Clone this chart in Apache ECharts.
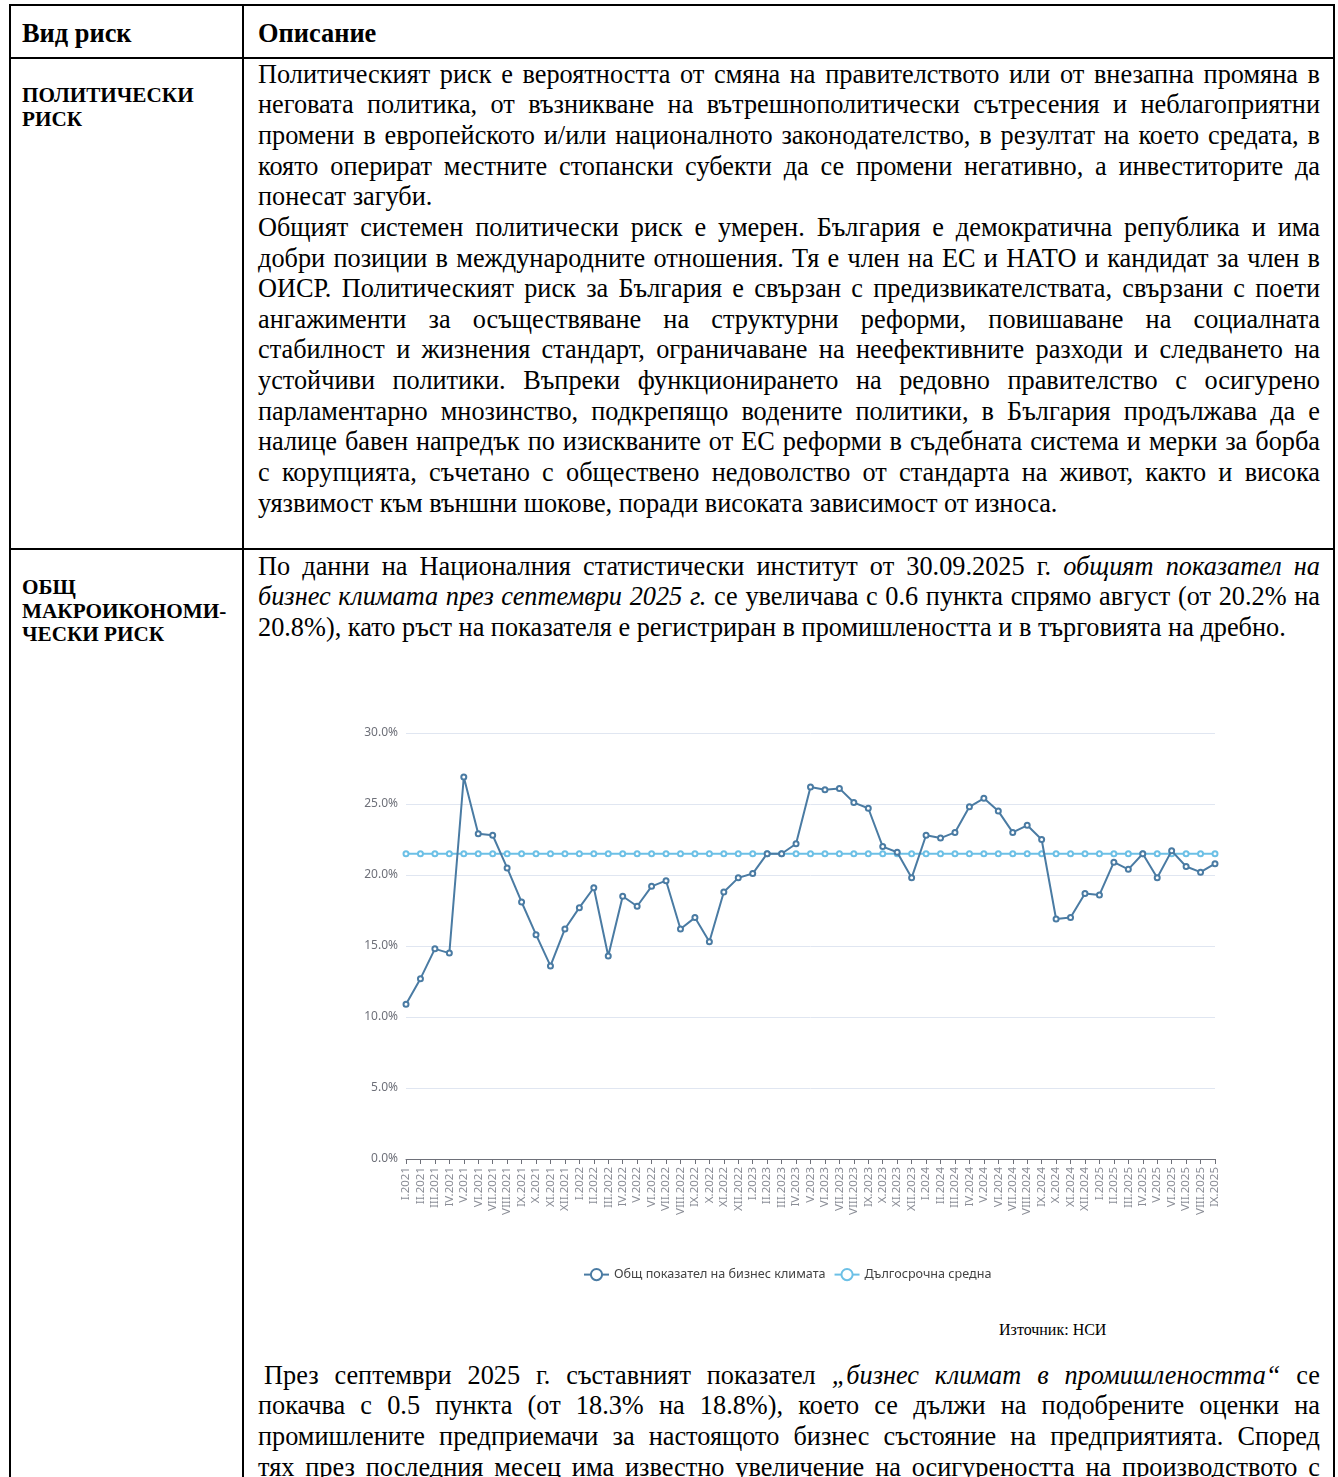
<!DOCTYPE html>
<html><head><meta charset="utf-8">
<script src="https://cdn.jsdelivr.net/npm/echarts@6/dist/echarts.min.js"></script>
<style>
html,body{margin:0;padding:0;background:#fff;}
body{width:1338px;height:1477px;overflow:hidden;position:relative;font-family:"Liberation Serif","Times New Roman",serif;color:#000;}
.b{position:absolute;background:#000;}
.txt{position:absolute;left:258px;width:1062px;font-size:26.3px;line-height:30.64px;}
.txt div{text-align:justify;text-align-last:justify;white-space:nowrap;}
.txt div.l{text-align:left;text-align-last:left;}
.hd{position:absolute;font-weight:bold;font-size:26.4px;line-height:30px;}
.lab{position:absolute;left:22px;font-weight:bold;font-size:21.2px;line-height:23.5px;}
#chart{position:absolute;left:330px;top:700px;width:960px;height:600px;}
.src{position:absolute;left:999px;top:1321px;font-size:16px;}
</style></head>
<body>
<div class="b" style="left:9px;top:4px;width:1326px;height:2px"></div>
<div class="b" style="left:9px;top:57px;width:1326px;height:2px"></div>
<div class="b" style="left:9px;top:548px;width:1326px;height:2px"></div>
<div class="b" style="left:9px;top:4px;width:2px;height:1480px"></div>
<div class="b" style="left:242px;top:4px;width:2px;height:1480px"></div>
<div class="b" style="left:1333px;top:4px;width:2px;height:1480px"></div>

<div class="hd" style="left:22px;top:18px">Вид риск</div>
<div class="hd" style="left:258px;top:18px">Описание</div>

<div class="lab" style="top:84px">ПОЛИТИЧЕСКИ<br>РИСК</div>
<div class="lab" style="top:576px">ОБЩ<br>МАКРОИКОНОМИ-<br>ЧЕСКИ РИСК</div>

<div class="txt" style="top:59.7px">
<div>Политическият риск е вероятността от смяна на правителството или от внезапна промяна в</div>
<div>неговата политика, от възникване на вътрешнополитически сътресения и неблагоприятни</div>
<div>промени в европейското и/или националното законодателство, в резултат на което средата, в</div>
<div>която оперират местните стопански субекти да се промени негативно, а инвеститорите да</div>
<div class="l">понесат загуби.</div>
<div>Общият системен политически риск е умерен. България е демократична република и има</div>
<div>добри позиции в международните отношения. Тя е член на ЕС и НАТО и кандидат за член в</div>
<div>ОИСР. Политическият риск за България е свързан с предизвикателствата, свързани с поети</div>
<div>ангажименти за осъществяване на структурни реформи, повишаване на социалната</div>
<div>стабилност и жизнения стандарт, ограничаване на неефективните разходи и следването на</div>
<div>устойчиви политики. Въпреки функционирането на редовно правителство с осигурено</div>
<div>парламентарно мнозинство, подкрепящо водените политики, в България продължава да е</div>
<div>налице бавен напредък по изискваните от ЕС реформи в съдебната система и мерки за борба</div>
<div>с корупцията, съчетано с обществено недоволство от стандарта на живот, както и висока</div>
<div class="l">уязвимост към външни шокове, поради високата зависимост от износа.</div>
</div>

<div class="txt" style="top:551.7px">
<div>По данни на Националния статистически институт от 30.09.2025 г. <i>общият показател на</i></div>
<div><i>бизнес климата през септември 2025 г.</i> се увеличава с 0.6 пункта спрямо август (от 20.2% на</div>
<div class="l">20.8%), като ръст на показателя е регистриран в промишлеността и в търговията на дребно.</div>
</div>

<div id="chart"></div>
<div class="src">Източник: НСИ</div>

<div class="txt" style="top:1360.7px">
<div style="padding-left:6px">През септември 2025 г. съставният показател <i>„бизнес климат в промишлеността“</i> се</div>
<div>покачва с 0.5 пункта (от 18.3% на 18.8%), което се дължи на подобрените оценки на</div>
<div>промишлените предприемачи за настоящото бизнес състояние на предприятията. Според</div>
<div>тях през последния месец има известно увеличение на осигуреността на производството с</div>
</div>

<script>
const months = [
 'I.2021','II.2021','III.2021','IV.2021','V.2021','VI.2021','VII.2021','VIII.2021','IX.2021','X.2021','XI.2021','XII.2021',
 'I.2022','II.2022','III.2022','IV.2022','V.2022','VI.2022','VII.2022','VIII.2022','IX.2022','X.2022','XI.2022','XII.2022',
 'I.2023','II.2023','III.2023','IV.2023','V.2023','VI.2023','VII.2023','VIII.2023','IX.2023','X.2023','XI.2023','XII.2023',
 'I.2024','II.2024','III.2024','IV.2024','V.2024','VI.2024','VII.2024','VIII.2024','IX.2024','X.2024','XI.2024','XII.2024',
 'I.2025','II.2025','III.2025','IV.2025','V.2025','VI.2025','VII.2025','VIII.2025','IX.2025'
];
const businessClimate = [
 10.9,12.7,14.8,14.5,26.9,22.9,22.8,20.5,18.1,15.8,13.6,16.2,
 17.7,19.1,14.3,18.5,17.8,19.2,19.6,16.2,17.0,15.3,18.8,19.8,
 20.1,21.5,21.5,22.2,26.2,26.0,26.1,25.1,24.7,22.0,21.6,19.8,
 22.8,22.6,23.0,24.8,25.4,24.5,23.0,23.5,22.5,16.9,17.0,18.7,
 18.6,20.9,20.4,21.5,19.8,21.7,20.6,20.2,20.8
];
const longTermAverage = [
 21.5,21.5,21.5,21.5,21.5,21.5,21.5,21.5,21.5,21.5,21.5,21.5,
 21.5,21.5,21.5,21.5,21.5,21.5,21.5,21.5,21.5,21.5,21.5,21.5,
 21.5,21.5,21.5,21.5,21.5,21.5,21.5,21.5,21.5,21.5,21.5,21.5,
 21.5,21.5,21.5,21.5,21.5,21.5,21.5,21.5,21.5,21.5,21.5,21.5,
 21.5,21.5,21.5,21.5,21.5,21.5,21.5,21.5,21.5
];
const yTicks = {min:0, max:30, interval:5};
const seriesNames = ['Общ показател на бизнес климата','Дългосрочна средна'];

const chart = echarts.init(document.getElementById('chart'), null, {renderer:'canvas'});
const font = 'Noto Sans, Open Sans, sans-serif';
chart.setOption({
  animation:false,
  color:['#4a7ba3','#6cc0e6'],
  grid:{left:76,right:75,top:33,bottom:141},
  legend:{
    data:seriesNames, left:248, top:563, itemWidth:25, itemHeight:14, itemGap:8,
    textStyle:{fontFamily:font,fontSize:12.6,color:'#444'}
  },
  xAxis:{
    type:'category', data:months, boundaryGap:false,
    axisLine:{lineStyle:{color:'#6e7079'}},
    axisTick:{lineStyle:{color:'#6e7079'}},
    axisLabel:{rotate:90,interval:0,fontSize:11.5,color:'#8a8d96',fontFamily:font}
  },
  yAxis:{
    type:'value', min:yTicks.min, max:yTicks.max, interval:yTicks.interval,
    axisLabel:{fontSize:12,color:'#6e7079',fontFamily:font,formatter:v=>v.toFixed(1)+'%'},
    splitLine:{lineStyle:{color:'#e0e6f1'}}
  },
  series:[
    {name:seriesNames[0],type:'line',data:businessClimate,symbol:'emptyCircle',symbolSize:5,lineStyle:{width:2},z:3},
    {name:seriesNames[1],type:'line',data:longTermAverage,symbol:'emptyCircle',symbolSize:5,lineStyle:{width:2},z:2}
  ]
});
</script>
</body></html>
